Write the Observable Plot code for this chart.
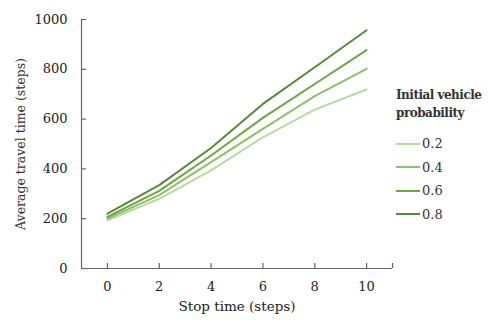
<!DOCTYPE html>
<html>
<head>
<meta charset="utf-8">
<script src="https://cdn.jsdelivr.net/npm/d3@7"></script>
<script src="https://cdn.jsdelivr.net/npm/@observablehq/plot@0.6"></script>
<style>
  html, body { margin: 0; padding: 0; background: #fff; }
  #wrap { position: relative; width: 491px; height: 320px; overflow: hidden; }
  #legend { position: absolute; left: 396px; top: 86px; font-family: "DejaVu Serif", serif; color: #333; }
  #legend .title { font-size: 12px; font-weight: bold; letter-spacing: -0.5px; line-height: 18px; white-space: nowrap; }
  #legend .item { display: flex; align-items: center; height: 23.5px; font-size: 13px; }
  #legend svg { margin-right: 2px; }
</style>
</head>
<body>
<div id="wrap"><div id="chart"></div><div id="legend"></div></div>
<script>
const stopTimes = [0, 2, 4, 6, 8, 10];
const probabilities = ["0.2", "0.4", "0.6", "0.8"];
const travel02 = [193, 280, 394, 527, 638, 719];
const travel04 = [200, 295, 427, 561, 692, 802];
const travel06 = [207, 312, 454, 605, 741, 877];
const travel08 = [220, 335, 484, 661, 808, 957];
const seriesColors = ["#b8d9a2", "#8cc069", "#6aa744", "#568a37"];
const xTicks = [0, 2, 4, 6, 8, 10];
const yTicks = [0, 200, 400, 600, 800, 1000];

const allSeries = [travel02, travel04, travel06, travel08];
const data = [];
probabilities.forEach((p, i) => {
  stopTimes.forEach((t, j) => data.push({p, t, v: allSeries[i][j]}));
});

const font = "DejaVu Serif, serif";

const chart = Plot.plot({
  width: 491,
  height: 320,
  marginLeft: 81,
  marginRight: 99,
  marginTop: 19,
  marginBottom: 52,
  style: {fontFamily: font, fontSize: "13px", color: "#333", background: "#fff"},
  x: {domain: [-1, 11]},
  y: {domain: [0, 1000]},
  color: {domain: probabilities, range: seriesColors},
  marks: [
    Plot.axisX(xTicks, {tickSize: 0, tickPadding: 13, fontSize: 13, fill: "#222", label: null}),
    Plot.axisY(yTicks, {tickSize: 0, tickPadding: 14, fontSize: 13, fill: "#222", tickFormat: d => String(d), label: null}),
    Plot.text(["Stop time (steps)"], {frameAnchor: "bottom", dy: 42, fontSize: 13.5, fill: "#222"}),
    Plot.text(["Average travel time (steps)"], {frameAnchor: "left", textAnchor: "middle", dx: -61, rotate: -90, fontSize: 12.5, fill: "#333"}),
    Plot.ruleX(xTicks.concat([11]), {y1: 0, y2: 20, stroke: "#666", strokeWidth: 1.2}),
    Plot.ruleY(yTicks, {x1: -1, x2: -0.8, stroke: "#666", strokeWidth: 1.2}),
    Plot.ruleY([0], {stroke: "#666", strokeWidth: 1.2}),
    Plot.ruleX([-1], {stroke: "#666", strokeWidth: 1.2}),
    Plot.line(data, {x: "t", y: "v", z: "p", stroke: "p", strokeWidth: 2})
  ]
});
document.getElementById("chart").appendChild(chart);

const legend = document.getElementById("legend");
legend.innerHTML = `<div class="title">Initial vehicle<br>probability</div><div style="height:10px"></div>` +
  probabilities.map((p, i) =>
    `<div class="item"><svg width="24" height="4"><line x1="0" x2="24" y1="2" y2="2" stroke="${seriesColors[i]}" stroke-width="2"/></svg>${p}</div>`
  ).join("");
</script>
</body>
</html>
